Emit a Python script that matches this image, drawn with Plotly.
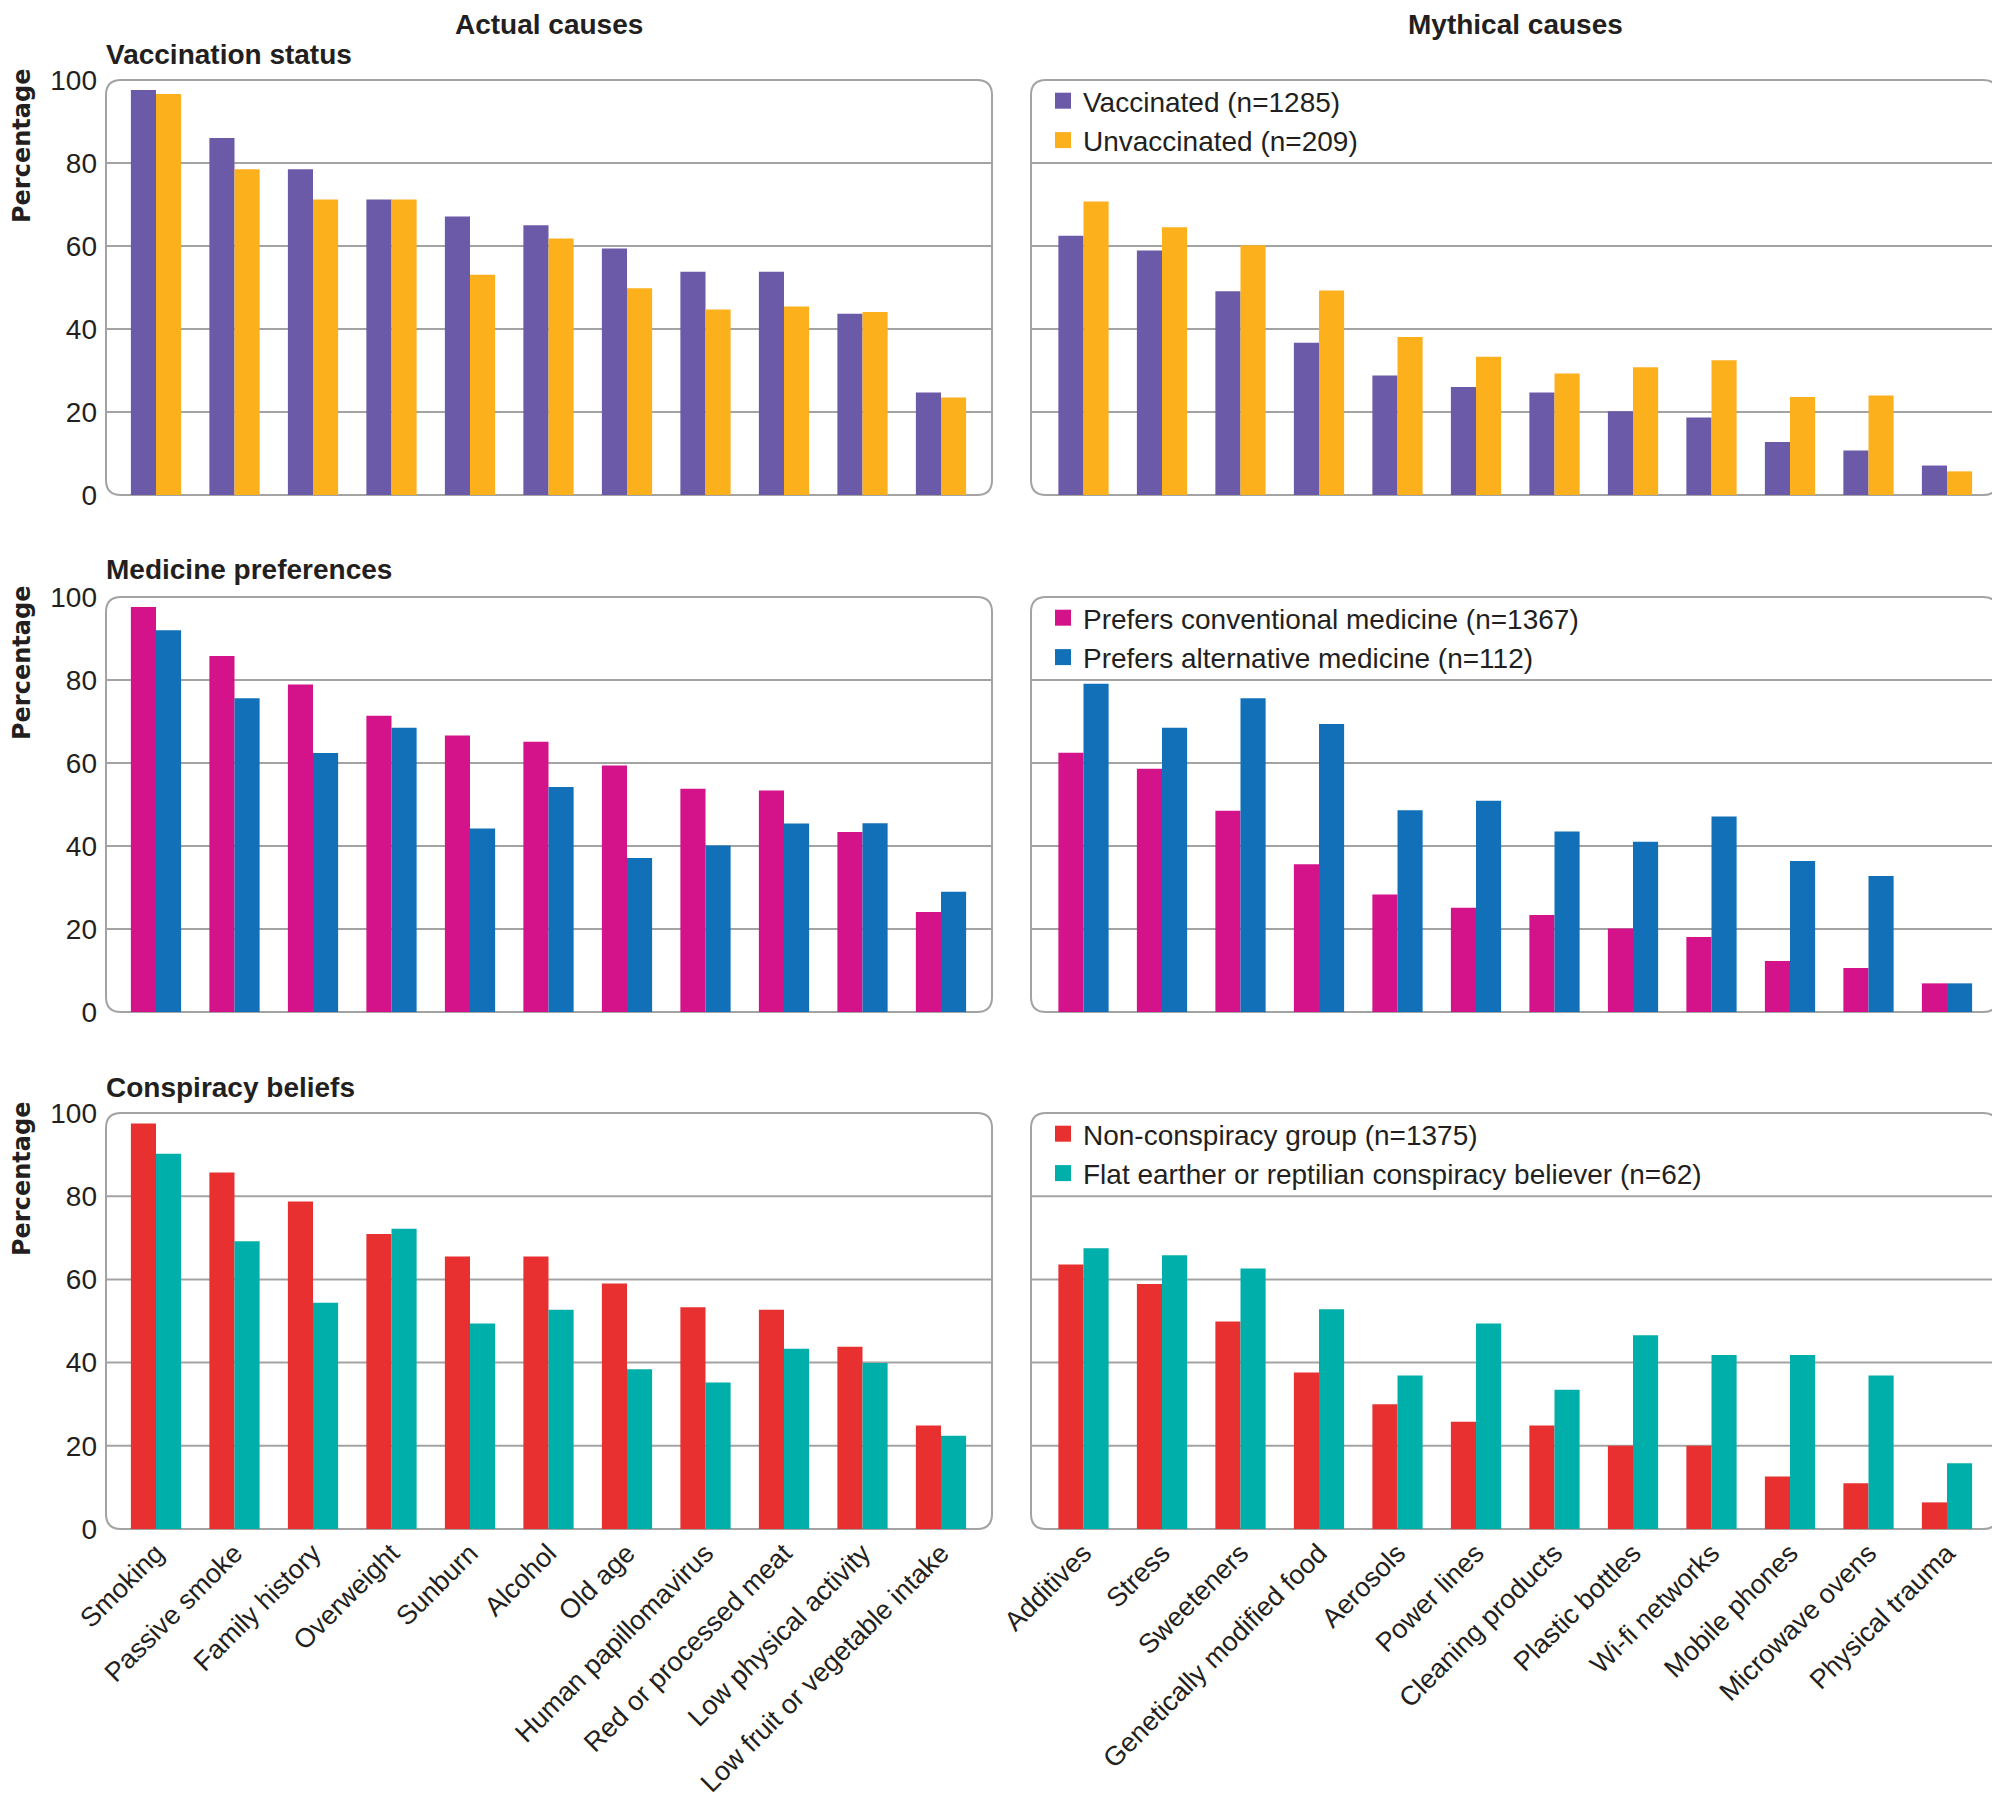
import plotly.graph_objects as go

# page is drawn with the browser's default 8px body margin
OFF = 8
W, H = 2000 - OFF, 1808 - OFF

actual = ["Smoking", "Passive smoke", "Family history", "Overweight", "Sunburn", "Alcohol",
          "Old age", "Human papillomavirus", "Red or processed meat", "Low physical activity",
          "Low fruit or vegetable intake"]
mythical = ["Additives", "Stress", "Sweeteners", "Genetically modified food", "Aerosols",
            "Power lines", "Cleaning products", "Plastic bottles", "Wi-fi networks",
            "Mobile phones", "Microwave ovens", "Physical trauma"]

# Vaccination status
vacc_actual = [97.6, 86.0, 78.5, 71.2, 67.1, 65.0, 59.4, 53.8, 53.8, 43.7, 24.7]
unvacc_actual = [96.6, 78.5, 71.2, 71.2, 53.1, 61.8, 49.8, 44.7, 45.4, 44.1, 23.5]
vacc_myth = [62.5, 58.9, 49.1, 36.7, 28.8, 26.0, 24.7, 20.2, 18.7, 12.8, 10.7, 7.1]
unvacc_myth = [70.7, 64.5, 60.2, 49.3, 38.1, 33.3, 29.3, 30.8, 32.5, 23.6, 24.0, 5.7]

# Medicine preferences
conv_actual = [97.6, 85.8, 78.9, 71.4, 66.6, 65.1, 59.4, 53.8, 53.4, 43.4, 24.1]
alt_actual = [92.0, 75.6, 62.4, 68.5, 44.2, 54.2, 37.1, 40.1, 45.4, 45.5, 29.0]
conv_myth = [62.5, 58.6, 48.5, 35.6, 28.3, 25.1, 23.4, 20.1, 18.1, 12.3, 10.6, 6.9]
alt_myth = [79.1, 68.5, 75.6, 69.4, 48.6, 50.9, 43.5, 41.0, 47.1, 36.4, 32.8, 6.9]

# Conspiracy beliefs
noncons_actual = [97.5, 85.7, 78.7, 70.9, 65.5, 65.5, 59.0, 53.3, 52.7, 43.8, 24.9]
cons_actual = [90.2, 69.2, 54.4, 72.2, 49.4, 52.7, 38.4, 35.2, 43.3, 39.9, 22.4]
noncons_myth = [63.6, 58.9, 49.9, 37.6, 30.0, 25.8, 24.9, 20.0, 20.0, 12.6, 11.0, 6.4]
cons_myth = [67.5, 65.8, 62.6, 52.8, 36.9, 49.4, 33.5, 46.6, 41.8, 41.8, 36.9, 15.8]

panel_titles = ["Vaccination status", "Medicine preferences", "Conspiracy beliefs"]
col_titles = ["Actual causes", "Mythical causes"]
series_names = [["Vaccinated (n=1285)", "Unvaccinated (n=209)"],
                ["Prefers conventional medicine (n=1367)", "Prefers alternative medicine (n=112)"],
                ["Non-conspiracy group (n=1375)", "Flat earther or reptilian conspiracy believer (n=62)"]]
series_colors = [["#6b5aa8", "#fcb01c"], ["#d4138b", "#1170b8"], ["#e83030", "#00aeaa"]]
yticks = [0, 20, 40, 60, 80, 100]
grid_vals = [20, 40, 60, 80]

data = [[(vacc_actual, unvacc_actual), (vacc_myth, unvacc_myth)],
        [(conv_actual, alt_actual), (conv_myth, alt_myth)],
        [(noncons_actual, cons_actual), (noncons_myth, cons_myth)]]

FONT = "Liberation Sans, Arial, sans-serif"
TXT = "#231f20"
FRAME = "#a3a3a3"

# panel geometry in screen pixels
col_px = [(106, 992), (1031, 1998)]
row_px = [(80, 495), (597, 1012), (1113, 1529)]

def px_x(p):
    return (p - OFF) / W

def px_y(p):
    return 1 - (p - OFF) / H

fig = go.Figure()
layout = dict(template="none", width=W, height=H, margin=dict(l=0, r=0, t=0, b=0, pad=0),
              autosize=False,
              paper_bgcolor="white", plot_bgcolor="rgba(0,0,0,0)",
              barmode="group", bargap=0.36, bargroupgap=0,
              font=dict(family=FONT, size=28, color=TXT), shapes=[], annotations=[])

ax = 0
for r in range(3):
    for c in range(2):
        ax += 1
        xa = "x" if ax == 1 else f"x{ax}"
        ya = "y" if ax == 1 else f"y{ax}"
        xkey = "xaxis" if ax == 1 else f"xaxis{ax}"
        ykey = "yaxis" if ax == 1 else f"yaxis{ax}"
        cats = actual if c == 0 else mythical
        s1, s2 = data[r][c]
        leg = "legend" if r == 0 else f"legend{r+1}"
        for vals, name, col in zip((s1, s2), series_names[r], series_colors[r]):
            fig.add_trace(go.Bar(x=cats, y=vals, name=name, marker=dict(color=col, line=dict(width=0)),
                                 xaxis=xa, yaxis=ya, showlegend=False, hoverinfo="x+y"))
            if c == 1:
                fig.add_trace(go.Scatter(x=[None], y=[None], mode="markers", name=name,
                                         marker=dict(symbol="square", size=18, color=col),
                                         xaxis=xa, yaxis=ya, showlegend=True, legend=leg))
        x0, x1 = col_px[c]
        y0, y1 = row_px[r]
        step = 78.5
        first_center = 156 if c == 0 else 1083.5
        rng = [(x0 - first_center) / step, (x1 - first_center) / step]
        layout[xkey] = dict(domain=[px_x(x0), min(1, px_x(x1))], anchor=ya, range=rng, automargin=False,
                            showgrid=False, zeroline=False, showline=False, ticks="",
                            showticklabels=(r == 2), tickangle=-45,
                            tickfont=dict(size=27, color=TXT), ticklabelstandoff=2,
                            categoryorder="array", categoryarray=cats)
        layout[ykey] = dict(domain=[px_y(y1), px_y(y0)], anchor=xa, range=[0, 100], automargin=False,
                            tickvals=yticks, showgrid=False, zeroline=False, showline=False,
                            ticks="", showticklabels=(c == 0),
                            tickfont=dict(size=28, color=TXT), ticklabelstandoff=8)
        # gridlines
        for g in grid_vals:
            layout["shapes"].append(dict(type="line", xref=f"{xa} domain", yref=ya,
                                         x0=0, x1=1, y0=g, y1=g, layer="below",
                                         line=dict(color=FRAME, width=2)))
        # rounded frame
        rr = 15
        X0, X1 = px_x(x0), px_x(x1)
        Y0, Y1 = px_y(y1), px_y(y0)  # bottom, top in paper
        rx, ry = rr / W, rr / H
        path = (f"M{X0+rx},{Y1} L{X1-rx},{Y1} Q{X1},{Y1} {X1},{Y1-ry} "
                f"L{X1},{Y0+ry} Q{X1},{Y0} {X1-rx},{Y0} "
                f"L{X0+rx},{Y0} Q{X0},{Y0} {X0},{Y0+ry} "
                f"L{X0},{Y1-ry} Q{X0},{Y1} {X0+rx},{Y1} Z")
        layout["shapes"].append(dict(type="path", path=path, xref="paper", yref="paper",
                                     layer="below", line=dict(color=FRAME, width=2)))

# legends
for r in range(3):
    key = "legend" if r == 0 else f"legend{r+1}"
    layout[key] = dict(x=px_x(1043), y=px_y(row_px[r][0] - 4), xanchor="left", yanchor="top",
                       bgcolor="rgba(0,0,0,0)", font=dict(size=28, color=TXT),
                       tracegroupgap=0, itemwidth=30, orientation="v", itemsizing="trace")

# panel titles
title_y = [54, 570, 1087]
for r in range(3):
    layout["annotations"].append(dict(text=f"<b>{panel_titles[r]}</b>", xref="paper", yref="paper",
                                      x=px_x(104), y=px_y(title_y[r]), xanchor="left", yanchor="middle",
                                      showarrow=False, font=dict(size=28, color=TXT, family=FONT)))
    ytop = row_px[r][0]
    layout["annotations"].append(dict(text="<b>Percentage</b>", xref="paper", yref="paper",
                                      x=px_x(22), y=px_y(ytop + 66), xanchor="center", yanchor="middle",
                                      textangle=-90, showarrow=False,
                                      font=dict(size=24, color=TXT, family="DejaVu Sans, sans-serif")))
col_centers = [549, 1515]
for c in range(2):
    layout["annotations"].append(dict(text=f"<b>{col_titles[c]}</b>", xref="paper", yref="paper",
                                      x=px_x(col_centers[c]), y=1, xanchor="center",
                                      yanchor="top", showarrow=False, borderpad=0,
                                      font=dict(size=28, color=TXT, family=FONT)))

fig.update_layout(**layout)
fig.write_html("out.html")
